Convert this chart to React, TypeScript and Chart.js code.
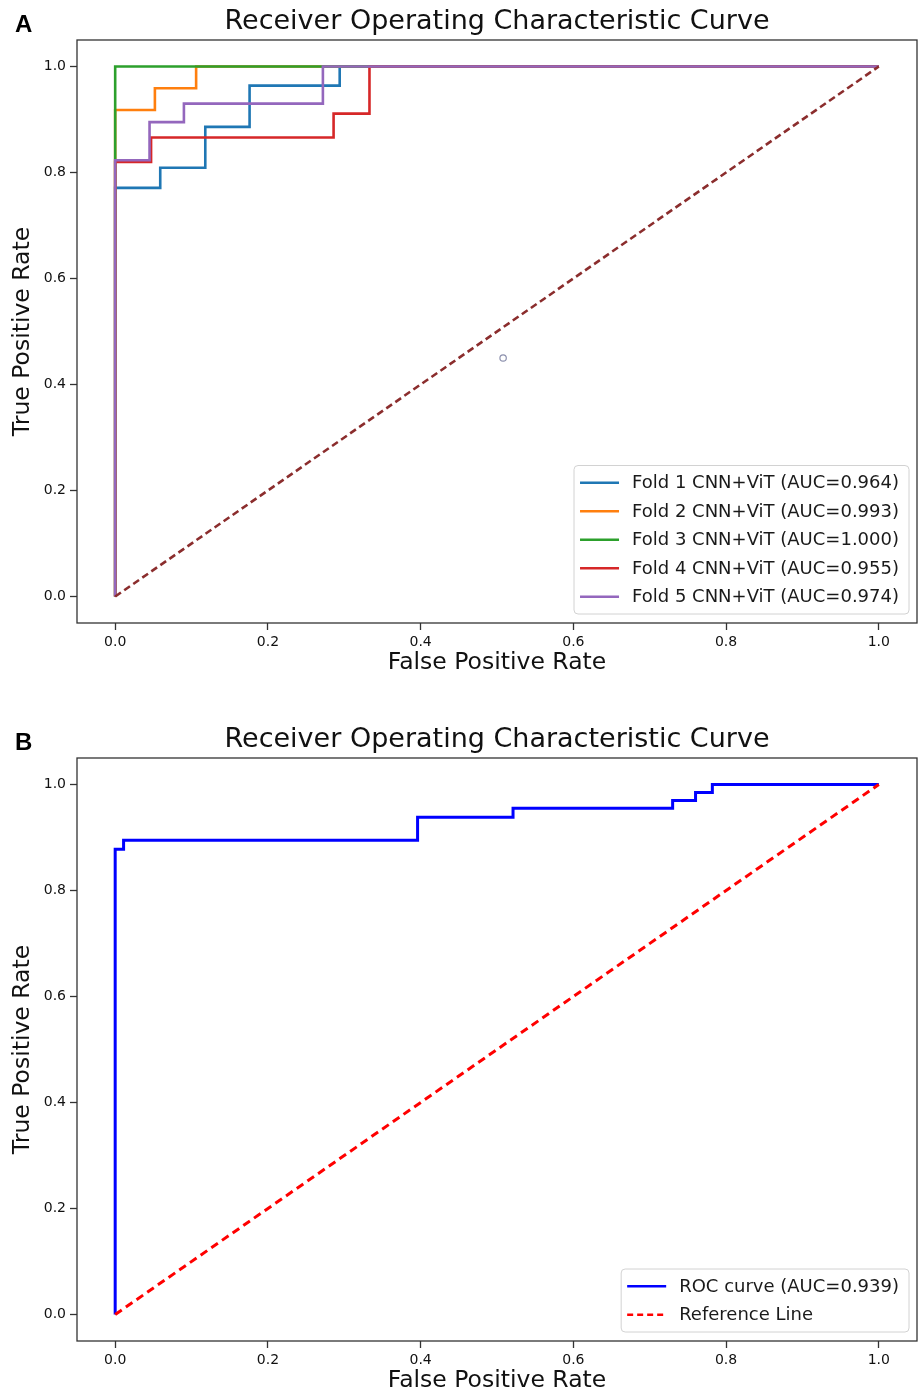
import React, { useEffect, useRef } from "react";
import { Chart, registerables } from "chart.js";

Chart.register(...registerables);

const FONT = '"DejaVu Sans", "Noto Sans", sans-serif';
const TITLE = "Receiver Operating Characteristic Curve";
const X_LABEL = "False Positive Rate";
const Y_LABEL = "True Positive Rate";
const TICK_VALUES = [0, 0.2, 0.4, 0.6, 0.8, 1.0];

// ---- Panel A: five folds ----
const FOLD_LABELS = [
  "Fold 1 CNN+ViT (AUC=0.964)",
  "Fold 2 CNN+ViT (AUC=0.993)",
  "Fold 3 CNN+ViT (AUC=1.000)",
  "Fold 4 CNN+ViT (AUC=0.955)",
  "Fold 5 CNN+ViT (AUC=0.974)",
];
const FOLD_COLORS = ["#1f77b4", "#ff7f0e", "#2ca02c", "#d62728", "#9467bd"];

const fold1Fpr = [0, 0, 0.059, 0.059, 0.118, 0.118, 0.176, 0.176, 0.294, 0.294, 1];
const fold1Tpr = [0, 0.771, 0.771, 0.809, 0.809, 0.886, 0.886, 0.964, 0.964, 1, 1];

const fold2Fpr = [0, 0, 0.052, 0.052, 0.106, 0.106, 1];
const fold2Tpr = [0, 0.918, 0.918, 0.959, 0.959, 1, 1];

const fold3Fpr = [0, 0, 1];
const fold3Tpr = [0, 1, 1];

const fold4Fpr = [0, 0, 0.047, 0.047, 0.286, 0.286, 0.333, 0.333, 1];
const fold4Tpr = [0, 0.82, 0.82, 0.866, 0.866, 0.911, 0.911, 1, 1];

const fold5Fpr = [0, 0, 0.045, 0.045, 0.09, 0.09, 0.272, 0.272, 1];
const fold5Tpr = [0, 0.823, 0.823, 0.895, 0.895, 0.93, 0.93, 1, 1];

const chanceFpr = [0, 1];
const chanceTpr = [0, 1];

const strayFpr = [0.508];
const strayTpr = [0.45];

// ---- Panel B: pooled ROC ----
const ROC_LABEL = "ROC curve (AUC=0.939)";
const REF_LABEL = "Reference Line";
const rocFpr = [0, 0, 0.011, 0.011, 0.396, 0.396, 0.521, 0.521, 0.73, 0.73, 0.76, 0.76, 0.782, 0.782, 1];
const rocTpr = [0, 0.878, 0.878, 0.895, 0.895, 0.938, 0.938, 0.955, 0.955, 0.97, 0.97, 0.985, 0.985, 1, 1];
const refFpr = [0, 1];
const refTpr = [0, 1];

const pts = (xs: number[], ys: number[]) => xs.map((x, i) => ({ x, y: ys[i] }));

type LegendItem = { label: string; color: string; width: number; dash: number[] };

function makeConfig(letter: string, datasets: any[], legendItems: LegendItem[]) {
  const decor = {
    id: "decor" + letter,
    afterDraw(chart: any) {
      const ctx = chart.ctx as CanvasRenderingContext2D;
      const ca = chart.chartArea;
      ctx.save();
      // frame
      ctx.strokeStyle = "#333";
      ctx.lineWidth = 1.3;
      ctx.setLineDash([]);
      ctx.strokeRect(ca.left, ca.top, ca.right - ca.left, ca.bottom - ca.top);
      // title
      ctx.fillStyle = "#111";
      ctx.font = `27px ${FONT}`;
      ctx.textAlign = "center";
      ctx.textBaseline = "alphabetic";
      ctx.fillText(TITLE, (ca.left + ca.right) / 2, 29);
      // panel letter
      ctx.font = `bold 24px "Liberation Sans", Arial, sans-serif`;
      ctx.textAlign = "left";
      ctx.fillStyle = "#000";
      ctx.fillText(letter, 15, 32);
      // legend
      ctx.font = `18px ${FONT}`;
      const tw = Math.max(...legendItems.map((it) => ctx.measureText(it.label).width));
      const rowH = 28.5;
      const w = 6 + 39 + 13 + tw + 10;
      const h = legendItems.length * rowH + 6;
      const right = ca.right - 8;
      const bottom = ca.bottom - 9;
      const left = right - w;
      const top = bottom - h;
      ctx.beginPath();
      ctx.roundRect(left, top, w, h, 4);
      ctx.fillStyle = "rgba(255,255,255,0.85)";
      ctx.fill();
      ctx.strokeStyle = "#d2d2d2";
      ctx.lineWidth = 1;
      ctx.stroke();
      legendItems.forEach((it, i) => {
        const y = top + 3 + rowH * (i + 0.5);
        ctx.beginPath();
        ctx.strokeStyle = it.color;
        ctx.lineWidth = it.width;
        ctx.setLineDash(it.dash);
        ctx.moveTo(left + 6, y);
        ctx.lineTo(left + 45, y);
        ctx.stroke();
        ctx.setLineDash([]);
        ctx.fillStyle = "#1a1a1a";
        ctx.textBaseline = "middle";
        ctx.textAlign = "left";
        ctx.fillText(it.label, left + 58, y + 1);
      });
      ctx.restore();
    },
  };

  const tickGrid = {
    display: true,
    drawOnChartArea: false,
    drawTicks: true,
    tickLength: 7,
    tickColor: "#333",
    tickWidth: 1.3,
    color: "#333",
  };

  return {
    type: "line" as const,
    data: { datasets },
    options: {
      responsive: false,
      maintainAspectRatio: false,
      devicePixelRatio: 1,
      animation: false as const,
      events: [],
      layout: { autoPadding: false, padding: { top: 40, left: 0, right: 1, bottom: 0 } },
      plugins: { legend: { display: false }, tooltip: { enabled: false }, title: { display: false } },
      scales: {
        x: {
          type: "linear" as const,
          min: -0.05,
          max: 1.05,
          afterBuildTicks: (s: any) => {
            s.ticks = TICK_VALUES.map((v) => ({ value: v }));
          },
          afterFit: (s: any) => {
            s.height = 52;
          },
          grid: tickGrid,
          border: { display: false },
          ticks: {
            color: "#111",
            font: { family: FONT, size: 14 },
            padding: 4,
            maxRotation: 0,
            autoSkip: false,
            callback: (v: any) => Number(v).toFixed(1),
          },
          title: {
            display: true,
            text: X_LABEL,
            color: "#111",
            font: { family: FONT, size: 23.5, lineHeight: 1 },
            padding: { top: 0, bottom: 0 },
          },
        },
        y: {
          type: "linear" as const,
          min: -0.05,
          max: 1.05,
          afterBuildTicks: (s: any) => {
            s.ticks = TICK_VALUES.map((v) => ({ value: v }));
          },
          afterFit: (s: any) => {
            s.width = 77;
          },
          grid: tickGrid,
          border: { display: false },
          ticks: {
            color: "#111",
            font: { family: FONT, size: 14 },
            padding: 4,
            autoSkip: false,
            callback: (v: any) => Number(v).toFixed(1),
          },
          title: {
            display: true,
            text: Y_LABEL,
            color: "#111",
            font: { family: FONT, size: 23.5, lineHeight: 1 },
            padding: { top: 11, bottom: 0 },
          },
        },
      },
    },
    plugins: [decor],
  };
}

const lineDs = (data: any[], color: string, width: number, order: number, dash: number[] = []) => ({
  data,
  borderColor: color,
  backgroundColor: color,
  borderWidth: width,
  borderDash: dash,
  pointRadius: 0,
  tension: 0,
  fill: false,
  order,
});

function buildA() {
  const foldX = [fold1Fpr, fold2Fpr, fold3Fpr, fold4Fpr, fold5Fpr];
  const foldY = [fold1Tpr, fold2Tpr, fold3Tpr, fold4Tpr, fold5Tpr];
  const datasets: any[] = foldX.map((xs, i) =>
    lineDs(pts(xs, foldY[i]), FOLD_COLORS[i], 2.6, 10 - i)
  );
  datasets.push(lineDs(pts(chanceFpr, chanceTpr), "#8b2d2d", 2.6, 1, [7, 4]));
  datasets.push({
    type: "scatter",
    data: pts(strayFpr, strayTpr),
    showLine: false,
    pointRadius: 3.2,
    pointBorderWidth: 1.2,
    pointBorderColor: "#8c90ad",
    pointBackgroundColor: "rgba(255,255,255,0)",
    order: 0,
  });
  const legend: LegendItem[] = FOLD_LABELS.map((l, i) => ({ label: l, color: FOLD_COLORS[i], width: 2.5, dash: [] }));
  return makeConfig("A", datasets, legend);
}

function buildB() {
  const datasets: any[] = [
    lineDs(pts(rocFpr, rocTpr), "#0000ff", 3, 2),
    lineDs(pts(refFpr, refTpr), "#ff0000", 3, 1, [8, 5]),
  ];
  const legend: LegendItem[] = [
    { label: ROC_LABEL, color: "#0000ff", width: 2.5, dash: [] },
    { label: REF_LABEL, color: "#ff0000", width: 2.5, dash: [6, 4] },
  ];
  return makeConfig("B", datasets, legend);
}

function Panel({ build, top }: { build: () => any; top: number }) {
  const ref = useRef<HTMLCanvasElement | null>(null);
  useEffect(() => {
    if (!ref.current) return;
    const chart = new Chart(ref.current, build());
    return () => chart.destroy();
  }, [build]);
  return (
    <canvas
      ref={ref}
      width={918}
      height={675}
      style={{ position: "absolute", left: 0, top, width: 918, height: 675, display: "block" }}
    />
  );
}

export default function App() {
  return (
    <div style={{ position: "absolute", left: 0, top: 0, width: 918, height: 1393, background: "#fff" }}>
      <Panel build={buildA} top={0} />
      <Panel build={buildB} top={718} />
    </div>
  );
}
